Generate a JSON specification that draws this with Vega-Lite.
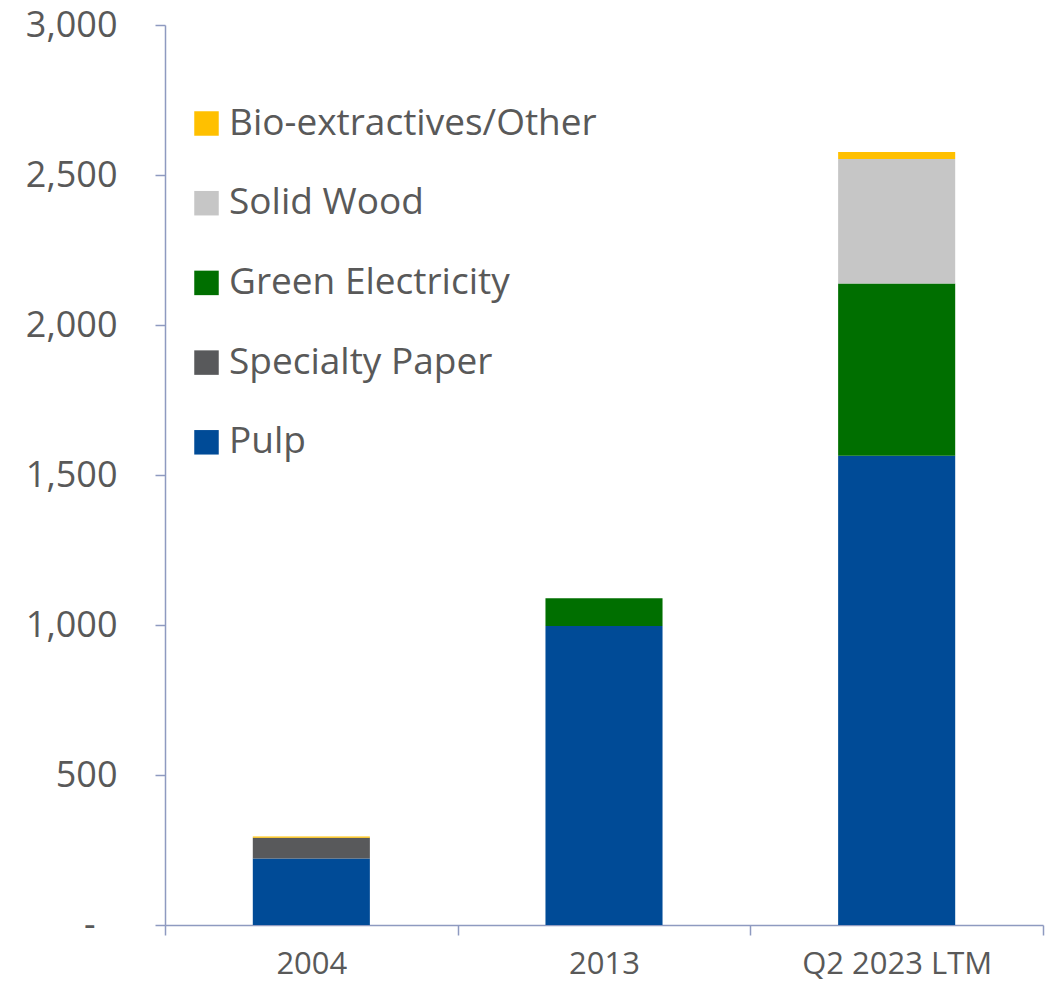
{
  "$schema": "https://vega.github.io/schema/vega-lite/v6.json",
  "width": 878,
  "height": 900,
  "autosize": {"type": "none"},
  "padding": {"left": 165, "top": 25, "right": 8, "bottom": 64},
  "background": "white",
  "config": {
    "view": {"stroke": null},
    "font": "Open Sans"
  },
  "data": {
    "values": [
      {"period": "2004", "segment": "Pulp", "rank": 1, "value": 222},
      {"period": "2004", "segment": "Specialty Paper", "rank": 2, "value": 69},
      {"period": "2004", "segment": "Green Electricity", "rank": 3, "value": 0},
      {"period": "2004", "segment": "Solid Wood", "rank": 4, "value": 0},
      {"period": "2004", "segment": "Bio-extractives/Other", "rank": 5, "value": 4},
      {"period": "2013", "segment": "Pulp", "rank": 1, "value": 997},
      {"period": "2013", "segment": "Specialty Paper", "rank": 2, "value": 0},
      {"period": "2013", "segment": "Green Electricity", "rank": 3, "value": 92},
      {"period": "2013", "segment": "Solid Wood", "rank": 4, "value": 0},
      {"period": "2013", "segment": "Bio-extractives/Other", "rank": 5, "value": 0},
      {"period": "Q2 2023 LTM", "segment": "Pulp", "rank": 1, "value": 1564},
      {"period": "Q2 2023 LTM", "segment": "Specialty Paper", "rank": 2, "value": 0},
      {"period": "Q2 2023 LTM", "segment": "Green Electricity", "rank": 3, "value": 574},
      {"period": "Q2 2023 LTM", "segment": "Solid Wood", "rank": 4, "value": 415},
      {"period": "Q2 2023 LTM", "segment": "Bio-extractives/Other", "rank": 5, "value": 24}
    ]
  },
  "mark": {"type": "bar", "width": {"band": 0.4}},
  "encoding": {
    "x": {
      "field": "period",
      "type": "nominal",
      "sort": null,
      "scale": {"paddingInner": 0, "paddingOuter": 0},
      "axis": {
        "title": null,
        "labelAngle": 0,
        "tickBand": "extent",
        "domainColor": "#8E9AC0",
        "domainWidth": 1.5,
        "tickColor": "#8E9AC0",
        "tickWidth": 1.5,
        "tickSize": 10,
        "labelFontSize": 31,
        "labelColor": "#595959",
        "labelPadding": 14,
        "labelLimit": 400,
        "labelFont": "Open Sans"
      }
    },
    "y": {
      "field": "value",
      "type": "quantitative",
      "stack": "zero",
      "scale": {"domain": [0, 3000], "nice": false},
      "axis": {
        "title": null,
        "values": [0, 500, 1000, 1500, 2000, 2500, 3000],
        "grid": false,
        "labelExpr": "datum.value === 0 ? '-' : format(datum.value, ',')",
        "domainColor": "#8E9AC0",
        "domainWidth": 1.5,
        "tickColor": "#8E9AC0",
        "tickWidth": 1.5,
        "tickSize": 10,
        "labelFontSize": 36,
        "labelColor": "#595959",
        "labelPadding": {"condition": {"test": "datum.value === 0", "value": 60}, "value": 38},
        "labelFont": "Open Sans"
      }
    },
    "color": {
      "field": "segment",
      "type": "nominal",
      "scale": {
        "domain": ["Bio-extractives/Other", "Solid Wood", "Green Electricity", "Specialty Paper", "Pulp"],
        "range": ["#FFC000", "#C6C6C6", "#006F00", "#58595B", "#004B97"]
      },
      "legend": {
        "title": null,
        "orient": "none",
        "legendX": 23,
        "legendY": 80,
        "symbolType": "square",
        "symbolSize": 600,
        "symbolStrokeWidth": 0,
        "labelFontSize": 37,
        "labelColor": "#595959",
        "labelFont": "Open Sans",
        "labelOffset": 4,
        "rowPadding": 41.7,
        "labelLimit": 600
      }
    },
    "order": {"field": "rank", "type": "quantitative"}
  }
}
